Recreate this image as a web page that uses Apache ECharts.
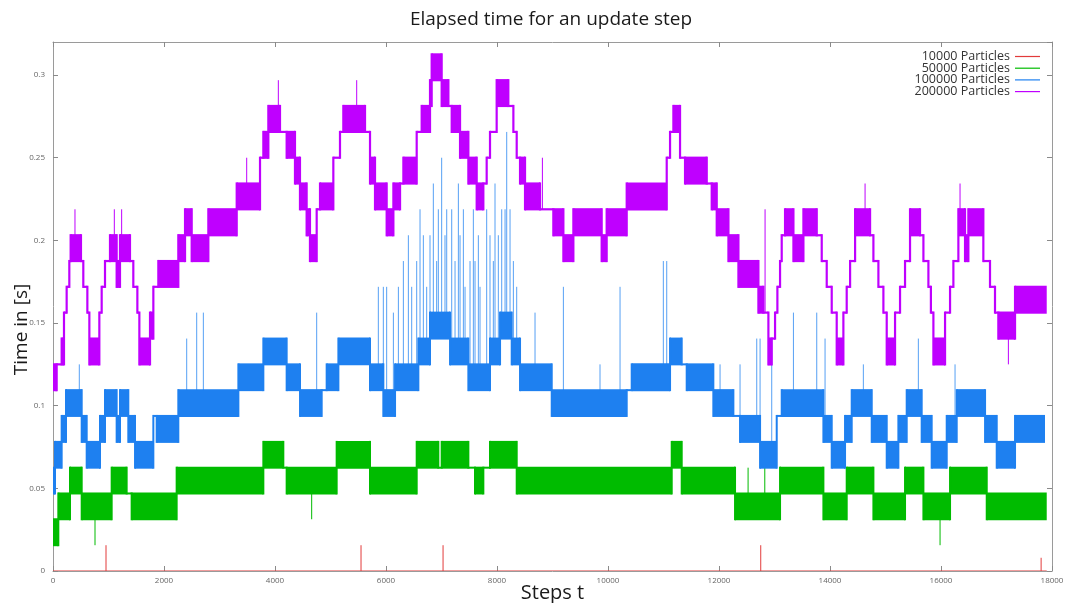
<!DOCTYPE html>
<html><head><meta charset="utf-8">
<script src="https://cdn.jsdelivr.net/npm/echarts/dist/echarts.min.js"></script>
<style>html,body{margin:0;padding:0;background:#fff}#c{width:1067px;height:603px}</style>
</head><body><div id="c"></div>
<script>
// ---------- data ----------
const seriesNames = ['10000 Particles', '50000 Particles', '100000 Particles', '200000 Particles'];
const xTickValues = [0, 2000, 4000, 6000, 8000, 10000, 12000, 14000, 16000, 18000];
const yTickValues = [0, 0.05, 0.1, 0.15, 0.2, 0.25, 0.3];

// step segments: [startStep, lowTime, highTime]; a segment lasts until the next start
// (low < high means the time flickers between the two timer levels)
const redSegments = [[0, 0, 0]];
const redEnd = 17905;
const redSpikes = [[955, 0.0156], [5550, 0.0156], [7028, 0.0156], [12752, 0.0156], [17804, 0.008]];

const greenSegments = [[0,0.0156,0.0313],[96,0.0313,0.0469],[306,0.0469,0.0625],[517,0.0313,0.0469],[1057,0.0469,0.0625],[1327,0.0469,0.0469],[1417,0.0313,0.0469],[2228,0.0469,0.0625],[3790,0.0625,0.0781],[4150,0.0625,0.0625],[4210,0.0469,0.0625],[5111,0.0625,0.0781],[5712,0.0469,0.0625],[6553,0.0625,0.0781],[6943,0.0625,0.0625],[7003,0.0625,0.0781],[7484,0.0625,0.0625],[7604,0.0469,0.0625],[7754,0.0625,0.0625],[7874,0.0625,0.0781],[8355,0.0469,0.0625],[11148,0.0625,0.0781],[11328,0.0469,0.0625],[12289,0.0313,0.0469],[13100,0.0469,0.0625],[13881,0.0313,0.0469],[14301,0.0469,0.0625],[14782,0.0313,0.0469],[15352,0.0469,0.0625],[15683,0.0313,0.0469],[16163,0.0469,0.0625],[16824,0.0313,0.0469]];
const greenEnd = 17905;
const greenSpikes = [[757,0.0156],[4661,0.0313],[12524,0.0625],[12825,0.0625],[15983,0.0156]];

const blueSegments = [[0,0.0469,0.0625],[36,0.0625,0.0781],[156,0.0781,0.0938],[234,0.0938,0.1094],[517,0.0781,0.0938],[607,0.0625,0.0781],[847,0.0781,0.0938],[937,0.0938,0.1094],[1147,0.0781,0.0938],[1207,0.0938,0.1094],[1357,0.0781,0.0938],[1478,0.0625,0.0781],[1808,0.0938,0.0938],[1868,0.0781,0.0938],[2258,0.0938,0.1094],[3340,0.1094,0.125],[3790,0.125,0.1406],[4210,0.1094,0.125],[4451,0.0938,0.1094],[4841,0.1094,0.1094],[4931,0.1094,0.125],[5142,0.125,0.1406],[5712,0.1094,0.125],[5952,0.0938,0.1094],[6163,0.1094,0.125],[6583,0.125,0.1406],[6793,0.1406,0.1563],[7154,0.125,0.1406],[7484,0.1094,0.125],[7874,0.125,0.1406],[8055,0.1406,0.1563],[8265,0.125,0.1406],[8415,0.1094,0.125],[8986,0.0938,0.1094],[10337,0.1094,0.1094],[10427,0.1094,0.125],[11118,0.125,0.1406],[11328,0.125,0.125],[11418,0.1094,0.125],[11898,0.0938,0.1094],[12259,0.0938,0.0938],[12379,0.0781,0.0938],[12740,0.0625,0.0781],[13040,0.0938,0.0938],[13130,0.0938,0.1094],[13881,0.0781,0.0938],[14031,0.0625,0.0781],[14271,0.0781,0.0938],[14391,0.0938,0.1094],[14752,0.0781,0.0938],[15022,0.0625,0.0781],[15232,0.0781,0.0938],[15382,0.0938,0.1094],[15652,0.0781,0.0938],[15832,0.0625,0.0781],[16103,0.0781,0.0938],[16283,0.0938,0.1094],[16794,0.0781,0.0938],[17004,0.0625,0.0781],[17334,0.0781,0.0938]];
const blueEnd = 17874;
const blueSpikes = [[474,0.125],[2409,0.1406],[2589,0.1563],[2709,0.1563],[4751,0.1563],[5862,0.1719],[5952,0.1719],[6012,0.1719],[6133,0.1563],[6223,0.1719],[6313,0.1875],[6403,0.2031],[6463,0.1719],[6553,0.1875],[6613,0.2188],[6673,0.2031],[6733,0.1719],[6793,0.2031],[6853,0.2344],[6913,0.1875],[6943,0.2188],[7003,0.25],[7063,0.2031],[7094,0.2188],[7184,0.2188],[7244,0.1875],[7304,0.2344],[7334,0.2031],[7394,0.2188],[7424,0.1719],[7514,0.1875],[7574,0.2188],[7604,0.1875],[7664,0.2031],[7694,0.1719],[7814,0.2188],[7874,0.2031],[7934,0.1875],[7964,0.2344],[8024,0.2031],[8085,0.2188],[8145,0.2188],[8175,0.2656],[8235,0.2188],[8295,0.1875],[8355,0.1719],[8685,0.1563],[9196,0.1719],[9856,0.125],[10217,0.1719],[10997,0.1875],[11058,0.1875],[12019,0.125],[12379,0.125],[12680,0.1406],[12740,0.1406],[12950,0.1406],[13341,0.1563],[13761,0.1563],[13911,0.1406],[14601,0.125],[15592,0.1406],[16253,0.125]];

const purpleSegments = [[0,0.1094,0.125],[66,0.125,0.125],[156,0.125,0.1406],[198,0.1563,0.1563],[246,0.1719,0.1719],[294,0.1875,0.1875],[318,0.1875,0.2031],[504,0.1875,0.1875],[546,0.1719,0.1719],[619,0.1563,0.1563],[655,0.125,0.1406],[835,0.1563,0.1563],[877,0.1719,0.1719],[937,0.1875,0.1875],[1027,0.1875,0.2031],[1147,0.1719,0.1875],[1207,0.1875,0.2031],[1387,0.1875,0.1875],[1447,0.1719,0.1719],[1520,0.1563,0.1563],[1556,0.125,0.1406],[1748,0.1406,0.1563],[1808,0.1719,0.1719],[1898,0.1719,0.1875],[2258,0.1875,0.2031],[2379,0.2031,0.2188],[2499,0.1875,0.2031],[2799,0.2031,0.2188],[3310,0.2188,0.2344],[3730,0.25,0.25],[3790,0.25,0.2656],[3880,0.2656,0.2813],[4090,0.2656,0.2656],[4210,0.25,0.2656],[4360,0.2344,0.25],[4450,0.2188,0.2344],[4570,0.2031,0.2188],[4630,0.1875,0.2031],[4751,0.2188,0.2188],[4811,0.2188,0.2344],[5051,0.25,0.25],[5171,0.2656,0.2656],[5231,0.2656,0.2813],[5622,0.2656,0.2656],[5712,0.2344,0.25],[5802,0.2188,0.2344],[6012,0.2031,0.2188],[6133,0.2188,0.2344],[6253,0.2344,0.2344],[6313,0.2344,0.25],[6553,0.2656,0.2656],[6643,0.2656,0.2813],[6793,0.2813,0.2969],[6823,0.2969,0.3125],[7003,0.2813,0.2969],[7124,0.2813,0.2813],[7184,0.2656,0.2813],[7334,0.25,0.2656],[7484,0.2344,0.25],[7634,0.2188,0.2344],[7754,0.2344,0.2344],[7814,0.25,0.25],[7874,0.2656,0.2656],[7994,0.2813,0.2969],[8204,0.2813,0.2813],[8295,0.2656,0.2656],[8355,0.25,0.25],[8415,0.2344,0.25],[8505,0.2188,0.2344],[8775,0.2188,0.2188],[9015,0.2031,0.2188],[9196,0.1875,0.2031],[9376,0.2031,0.2188],[9886,0.1875,0.2031],[9976,0.2031,0.2188],[10337,0.2188,0.2344],[11058,0.25,0.25],[11118,0.2656,0.2656],[11178,0.2656,0.2813],[11298,0.25,0.25],[11388,0.2344,0.25],[11779,0.2344,0.2344],[11869,0.2188,0.2344],[11959,0.2031,0.2188],[12170,0.1875,0.2031],[12350,0.1719,0.1875],[12710,0.1563,0.1719],[12800,0.1563,0.1563],[12890,0.125,0.1406],[12950,0.1406,0.1406],[13010,0.1563,0.1563],[13052,0.1719,0.1719],[13100,0.1875,0.1875],[13130,0.2031,0.2031],[13190,0.2031,0.2188],[13341,0.1875,0.2031],[13521,0.2031,0.2188],[13761,0.2031,0.2031],[13851,0.1875,0.1875],[13941,0.1719,0.1719],[14031,0.1563,0.1563],[14121,0.125,0.1406],[14241,0.1563,0.1563],[14301,0.1719,0.1719],[14362,0.1875,0.1875],[14452,0.2031,0.2188],[14722,0.2031,0.2031],[14782,0.1875,0.1875],[14872,0.1719,0.1719],[14962,0.1563,0.1563],[15022,0.125,0.1406],[15172,0.1563,0.1563],[15262,0.1719,0.1719],[15352,0.1875,0.1875],[15442,0.2031,0.2188],[15622,0.2031,0.2031],[15683,0.1875,0.1875],[15773,0.1719,0.1719],[15818,0.1563,0.1563],[15863,0.125,0.1406],[16073,0.1563,0.1563],[16163,0.1719,0.1719],[16223,0.1875,0.1875],[16313,0.2031,0.2188],[16433,0.1875,0.2031],[16493,0.2031,0.2188],[16763,0.1875,0.1875],[16883,0.1719,0.1719],[16973,0.1563,0.1563],[17033,0.1406,0.1563],[17334,0.1563,0.1719]];
const purpleEnd = 17905;
const purpleSpikes = [[396,0.2188],[1105,0.2188],[1237,0.2188],[3490,0.25],[4060,0.2969],[5472,0.2969],[8818,0.25],[12830,0.2188],[14632,0.2344],[16343,0.2344],[17214,0.125]];

// ---------- build ----------
const colors = ['#e23b3b', '#00bb00', '#1e80f0', '#bf00ff'];

function segItems(segs, end) {
  return segs.map((s, i) => {
    const e = i < segs.length - 1 ? segs[i + 1][0] : end;
    const p = i > 0 ? segs[i - 1] : s;
    return [s[0], e, s[1], s[2], p[1], p[2]];
  });
}
function spikeItems(spikes, segs) {
  return spikes.map(([x, v]) => {
    let seg = segs[0];
    for (const s of segs) { if (s[0] <= x) seg = s; }
    const base = v < seg[1] ? seg[1] : seg[2];
    return [x, base, v];
  });
}
function segRenderer(color, lw) {
  return function (params, api) {
    const s = api.value(0), e = api.value(1), lo = api.value(2), hi = api.value(3);
    const plo = api.value(4), phi = api.value(5);
    const tl = api.coord([s, hi]), br = api.coord([e, lo]);
    const children = [{
      type: 'rect',
      shape: { x: tl[0], y: tl[1] - lw / 2, width: br[0] - tl[0], height: br[1] - tl[1] + lw },
      style: { fill: color }
    }];
    if (params.dataIndex > 0) {
      const top = api.coord([s, Math.max(hi, phi)]), bot = api.coord([s, Math.min(lo, plo)]);
      children.push({
        type: 'rect',
        shape: { x: top[0] - lw / 2, y: top[1] - lw / 2, width: lw, height: bot[1] - top[1] + lw },
        style: { fill: color }
      });
    }
    return { type: 'group', children };
  };
}
function spikeRenderer(color, lw, op) {
  return function (params, api) {
    const a = api.coord([api.value(0), api.value(1)]), b = api.coord([api.value(0), api.value(2)]);
    return { type: 'line', shape: { x1: a[0], y1: a[1], x2: b[0], y2: b[1] },
      style: { stroke: color, lineWidth: lw, opacity: op } };
  };
}

const groups = [
  [redSegments, redEnd, redSpikes, 1.2],
  [greenSegments, greenEnd, greenSpikes, 2],
  [blueSegments, blueEnd, blueSpikes, 2],
  [purpleSegments, purpleEnd, purpleSpikes, 2.2]
];
const series = [];
groups.forEach(([segs, end, spikes, lw], i) => {
  series.push({
    type: 'custom', name: seriesNames[i], clip: true,
    itemStyle: { color: colors[i] },
    renderItem: segRenderer(colors[i], lw),
    encode: { x: [0, 1], y: [2, 3] },
    data: segItems(segs, end)
  });
  series.push({
    type: 'custom', name: seriesNames[i], clip: true,
    itemStyle: { color: colors[i] },
    renderItem: spikeRenderer(colors[i], 1, i === 2 ? 0.75 : 1),
    encode: { x: 0, y: [1, 2] },
    data: spikeItems(spikes, segs)
  });
});

const FONT = 'Open Sans';
function axisCommon() {
  return {
    axisLine: { show: true, onZero: false, lineStyle: { color: '#9a9a9a', width: 1 } },
    axisTick: { show: true, inside: true, length: 5, lineStyle: { color: '#8a8a8a' } },
    splitLine: { show: false }
  };
}
const chart = echarts.init(document.getElementById('c'));
chart.setOption({
  animation: false,
  backgroundColor: '#fff',
  title: {
    text: 'Elapsed time for an update step', left: 546, textAlign: 'center', top: 5,
    textStyle: { fontFamily: FONT, fontSize: 19, fontWeight: 'normal', color: '#1a1a1a' }
  },
  legend: {
    data: seriesNames.map(n => ({ name: n, icon: 'rect' })),
    orient: 'vertical', right: 22, top: 45, align: 'right',
    itemWidth: 25, itemHeight: 1.2, itemGap: -1.3, selectedMode: false,
    textStyle: { fontFamily: FONT, fontSize: 12.5, color: '#333', lineHeight: 11.7 }
  },
  grid: { left: 53, right: 15, top: 42, bottom: 32, containLabel: false, outerBoundsMode: 'none' },
  xAxis: [
    Object.assign(axisCommon(), {
      type: 'value', min: xTickValues[0], max: xTickValues[xTickValues.length - 1], interval: 2000,
      position: 'bottom',
      name: 'Steps t', nameLocation: 'middle', nameGap: 12, nameMoveOverlap: false,
      nameTextStyle: { fontFamily: FONT, fontSize: 20, color: '#1a1a1a' },
      axisLabel: { fontFamily: FONT, fontSize: 8, color: '#666', margin: 6, formatter: v => String(v) }
    }),
    Object.assign(axisCommon(), {
      type: 'value', min: xTickValues[0], max: xTickValues[xTickValues.length - 1], interval: 2000,
      position: 'top', axisLabel: { show: false }
    })
  ],
  yAxis: [
    Object.assign(axisCommon(), {
      type: 'value', min: 0, max: 0.32, interval: 0.05, position: 'left',
      name: 'Time in [s]', nameLocation: 'middle', nameGap: 22, nameMoveOverlap: false,
      nameTextStyle: { fontFamily: FONT, fontSize: 19, color: '#1a1a1a', padding: [0, 46, 0, 0] },
      axisLabel: {
        fontFamily: FONT, fontSize: 8, color: '#666', margin: 8, showMaxLabel: false,
        formatter: v => (yTickValues.some(t => Math.abs(t - v) < 1e-9) ? String(+v.toFixed(2)) : '')
      }
    }),
    Object.assign(axisCommon(), {
      type: 'value', min: 0, max: 0.32, interval: 0.05, position: 'right', axisLabel: { show: false }
    })
  ],
  series
});
</script>
</body></html>
